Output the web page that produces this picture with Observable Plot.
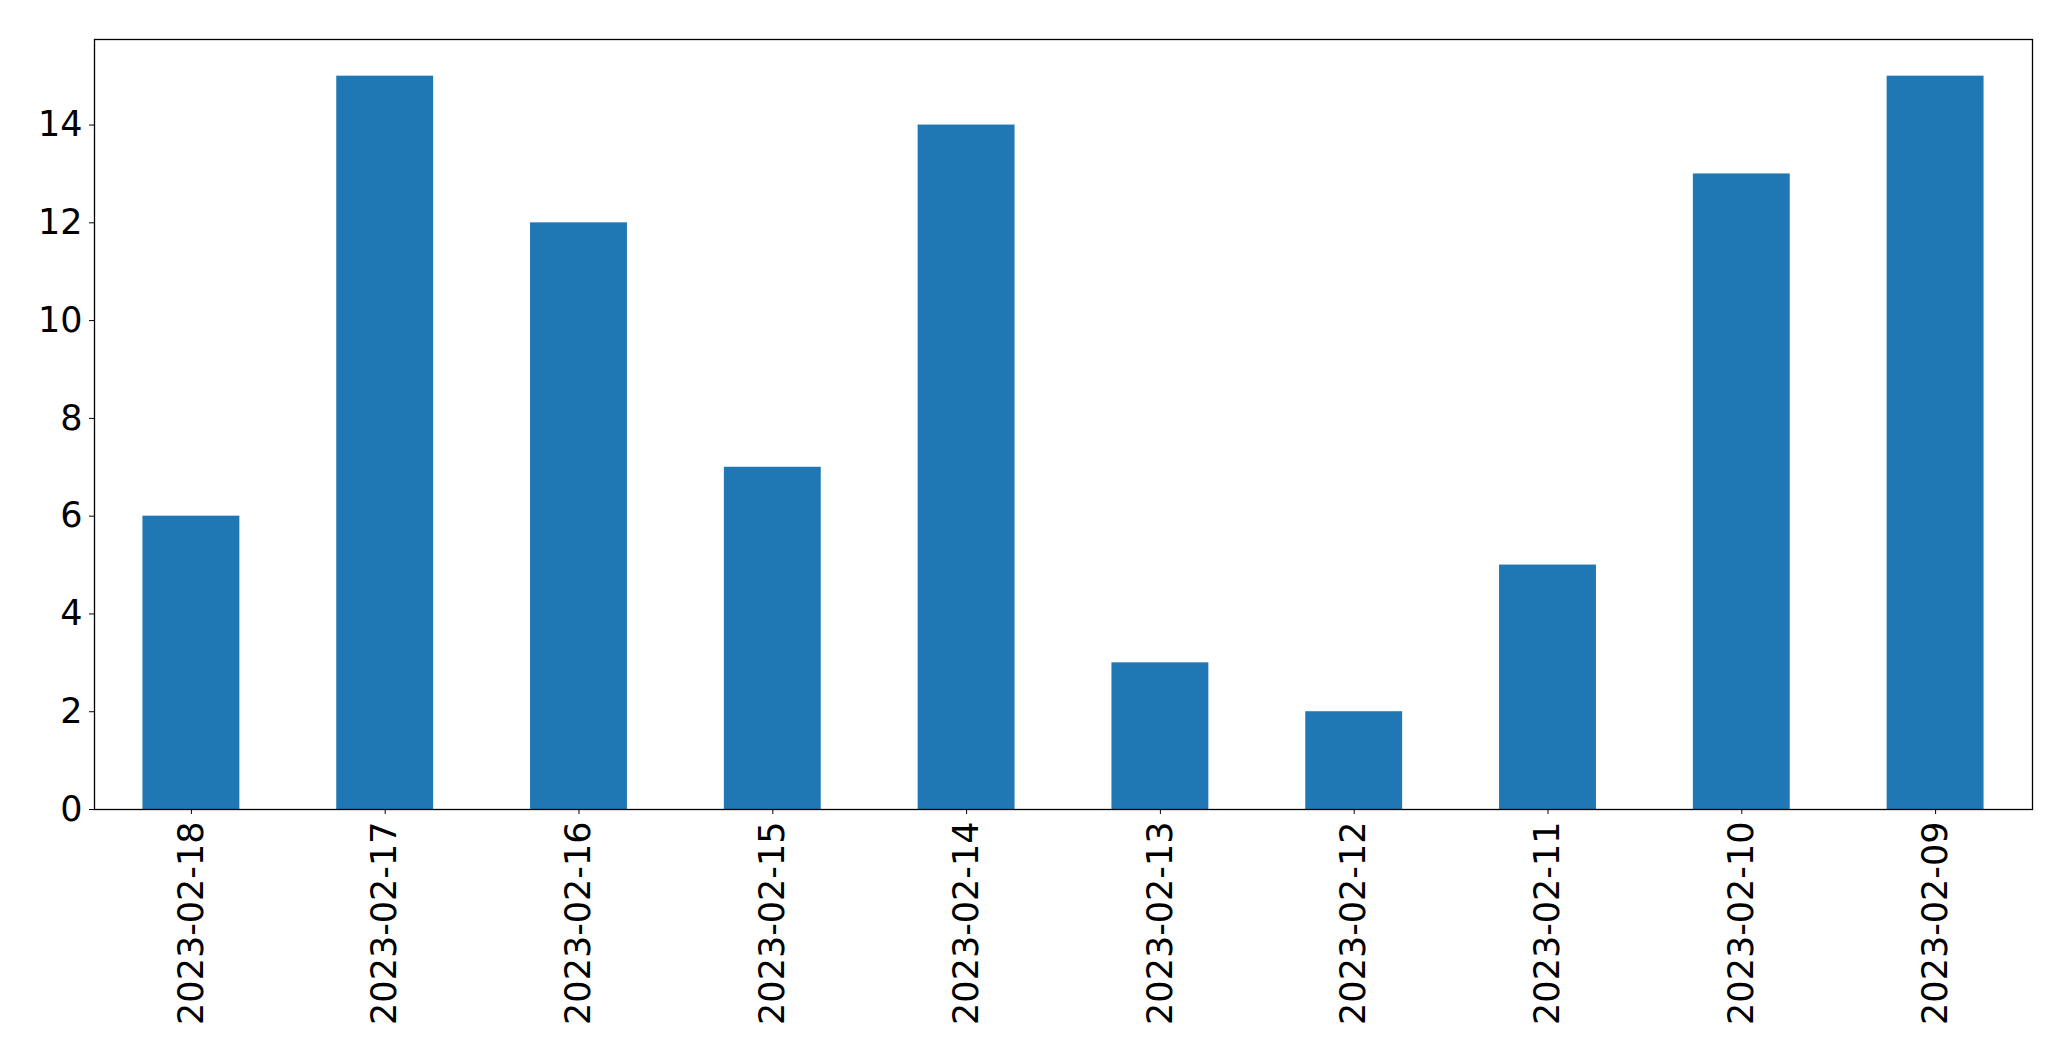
<!DOCTYPE html>
<html>
<head>
<meta charset="utf-8">
<script src="https://cdn.jsdelivr.net/npm/d3@7"></script>
<script src="https://cdn.jsdelivr.net/npm/@observablehq/plot@0.6"></script>
<style>
  html, body { margin: 0; padding: 0; background: #fff; }
  svg { display: block; }
</style>
</head>
<body>
<div id="chart"></div>
<script>
const dates = ["2023-02-18","2023-02-17","2023-02-16","2023-02-15","2023-02-14","2023-02-13","2023-02-12","2023-02-11","2023-02-10","2023-02-09"];
const counts = [6, 15, 12, 7, 14, 3, 2, 5, 13, 15];
const yTicks = [0, 2, 4, 6, 8, 10, 12, 14];

const data = dates.map((d, i) => ({date: d, count: counts[i]}));

const chart = Plot.plot({
  width: 2071,
  height: 1061,
  marginLeft: 94,
  marginRight: 39,
  marginTop: 39,
  marginBottom: 252,
  style: {fontFamily: "DejaVu Sans", fontSize: "35px", color: "black", background: "white"},
  x: {domain: dates, paddingInner: 0.5, paddingOuter: 0.25, round: false, label: null},
  y: {domain: [0, 15.75], label: null},
  marks: [
    Plot.barY(data, {x: "date", y: "count", fill: "#1f77b4"}),
    Plot.frame({stroke: "black", strokeWidth: 1.3}),
    Plot.axisX({tickRotate: -90, tickSize: 5, tickPadding: 7, label: null, fontSize: 35, stroke: "black"}),
    Plot.axisY({ticks: yTicks, tickSize: 5, tickPadding: 7, label: null, fontSize: 35, tickFormat: d => String(d), stroke: "black"})
  ]
});
document.getElementById("chart").appendChild(chart);
</script>
</body>
</html>
